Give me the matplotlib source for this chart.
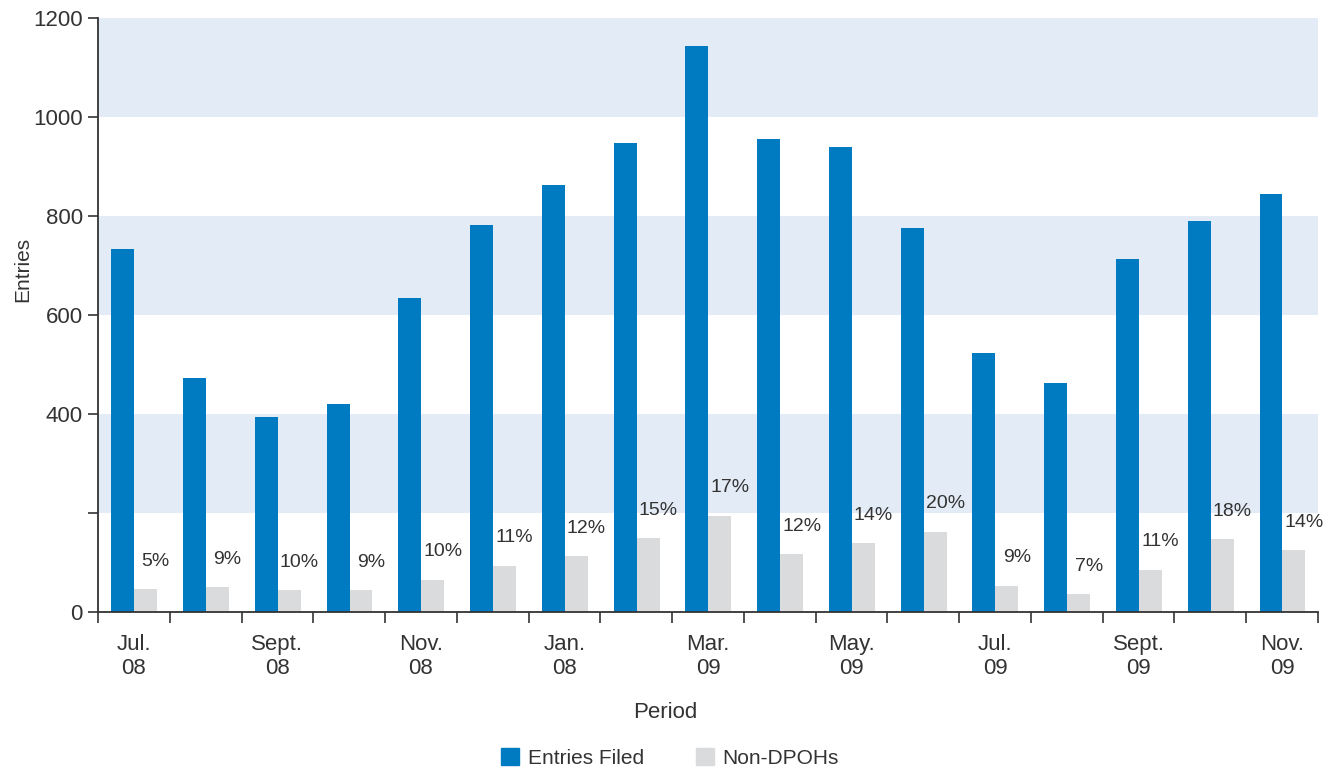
import matplotlib.pyplot as plt
import numpy as np
from matplotlib.patches import Patch

BLUE = "#007BC2"
GREY = "#DADBDD"
BAND = "#E3EBF6"
TEXT = "#333333"

plt.rcParams["font.family"] = ["Liberation Sans", "DejaVu Sans"]

# one label per month, only every other month is written
periods = ["Jul.\n08", "", "Sept.\n08", "", "Nov.\n08", "", "Jan.\n08", "",
           "Mar.\n09", "", "May.\n09", "", "Jul.\n09", "", "Sept.\n09", "", "Nov.\n09"]
entries_filed = [733, 473, 394, 420, 634, 782, 863, 947, 1143, 956, 939, 776, 523, 463, 713, 790, 844]
non_dpohs = [46, 50, 44, 44, 65, 93, 113, 149, 194, 117, 139, 162, 53, 36, 85, 147, 125]
pct_labels = ["5%", "9%", "10%", "9%", "10%", "11%", "12%", "15%", "17%",
              "12%", "14%", "20%", "9%", "7%", "11%", "18%", "14%"]
yticks = [0, 200, 400, 600, 800, 1000, 1200]
ytick_labels = ["0", "", "400", "600", "800", "1000", "1200"]
bands = [(200, 400), (600, 800), (1000, 1200)]

fig = plt.figure(figsize=(13.35, 7.67), dpi=100)
ax = fig.add_axes([98 / 1335, 1 - 612 / 767, 1220 / 1335, 594 / 767])

x = np.arange(len(entries_filed))
bar_w = 0.32

# background bands
for lo, hi in bands:
    ax.axhspan(lo, hi, color=BAND, lw=0, zorder=0)

ax.bar(x - 0.155, entries_filed, width=bar_w, color=BLUE, zorder=2)
ax.bar(x + 0.165, non_dpohs, width=bar_w, color=GREY, zorder=2)

for xi, v, lab in zip(x, non_dpohs, pct_labels):
    ax.annotate(lab, (xi + 0.165, v), xytext=(10, 28), textcoords="offset pixels",
                ha="center", va="center", fontsize=14, color=TEXT)

ax.set_xlim(-0.5, len(x) - 0.5)
ax.set_ylim(0, 1200)

# ticks on the group borders, labels in the middle of the groups
ax.set_xticks(np.arange(-0.5, len(x)))
ax.set_xticklabels([])
ax.set_xticks(x, minor=True)
ax.set_xticklabels(periods, minor=True, fontsize=16, color=TEXT, linespacing=1.15)
ax.tick_params(axis="x", which="major", length=8, width=1.2, color=TEXT)
ax.tick_params(axis="x", which="minor", length=0, pad=16)

ax.set_yticks(yticks)
ax.set_yticklabels(ytick_labels, fontsize=16, color=TEXT)
ax.tick_params(axis="y", length=7, width=1.2, color=TEXT, pad=4)

for side in ["top", "right"]:
    ax.spines[side].set_visible(False)
for side in ["left", "bottom"]:
    ax.spines[side].set_color(TEXT)
    ax.spines[side].set_linewidth(1.3)

ax.set_ylabel("Entries", fontsize=15, color=TEXT)
ax.yaxis.set_label_coords(-0.054, 0.576)
ax.set_xlabel("Period", fontsize=16, color=TEXT)
ax.xaxis.set_label_coords(0.465, -0.152)

handles = [Patch(color=BLUE, label="Entries Filed"), Patch(color=GREY, label="Non-DPOHs")]
fig.legend(handles=handles, loc="center", bbox_to_anchor=(670 / 1335, 1 - 758 / 767),
           ncol=2, frameon=False, fontsize=15, handlelength=0.86, handleheight=0.86,
           handletextpad=0.4, columnspacing=2.5, labelcolor=TEXT)

fig.savefig("out.png", dpi=100)
